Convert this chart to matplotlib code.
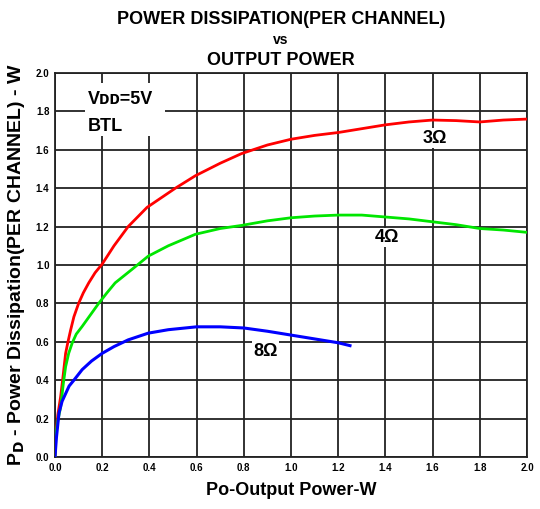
import numpy as np
import matplotlib.pyplot as plt
from matplotlib.patches import Rectangle

# curves (output power W, dissipation W)
x_3ohm = [0.0, 0.003, 0.012, 0.024, 0.035, 0.045, 0.055, 0.066, 0.08, 0.10, 0.12, 0.143, 0.17, 0.2,
          0.25, 0.31, 0.39, 0.45, 0.51, 0.595, 0.7, 0.79, 0.9, 1.0, 1.1, 1.2, 1.3, 1.4, 1.5,
          1.6, 1.7, 1.8, 1.9, 2.0]
y_3ohm = [0.0, 0.106, 0.22, 0.315, 0.43, 0.54, 0.60, 0.66, 0.73, 0.80, 0.855, 0.907, 0.96, 1.005,
          1.1, 1.2, 1.30, 1.35, 1.40, 1.465, 1.53, 1.58, 1.625, 1.655, 1.675, 1.69, 1.71, 1.73, 1.745,
          1.755, 1.752, 1.745, 1.755, 1.76]

x_4ohm = [0.0, 0.004, 0.012, 0.024, 0.035, 0.045, 0.058, 0.073, 0.09, 0.115, 0.15, 0.185, 0.22, 0.255,
          0.325, 0.395, 0.48, 0.595, 0.7, 0.79, 0.9, 1.0, 1.1, 1.2, 1.3, 1.4, 1.5, 1.6, 1.7,
          1.8, 1.9, 2.0]
y_4ohm = [0.0, 0.12, 0.19, 0.26, 0.38, 0.47, 0.54, 0.594, 0.64, 0.68, 0.74, 0.80, 0.855, 0.907,
          0.976, 1.046, 1.10, 1.16, 1.19, 1.206, 1.23, 1.246, 1.255, 1.26, 1.26, 1.25, 1.24, 1.225, 1.21,
          1.19, 1.182, 1.17]

x_8ohm = [0.0, 0.006, 0.017, 0.03, 0.045, 0.06, 0.08, 0.115, 0.155, 0.2, 0.25, 0.31, 0.395, 0.48, 0.6,
          0.7, 0.8, 0.9, 1.0, 1.1, 1.2, 1.25]
y_8ohm = [0.0, 0.1, 0.23, 0.29, 0.33, 0.37, 0.40, 0.455, 0.50, 0.54, 0.575, 0.61, 0.645, 0.663, 0.678,
          0.678, 0.672, 0.655, 0.635, 0.615, 0.595, 0.58]

ticks = np.arange(0, 2.01, 0.2)

plt.rcParams['font.family'] = ['Liberation Sans', 'DejaVu Sans']

fig = plt.figure(figsize=(5.4, 5.09), dpi=100)
ax = fig.add_axes([55 / 540, 52 / 509, 472 / 540, 384 / 509])

ax.plot(x_3ohm, y_3ohm, color='#ff0000', lw=2, zorder=3)
ax.plot(x_4ohm, y_4ohm, color='#00e600', lw=2, zorder=3)
ax.plot(x_8ohm, y_8ohm, color='#0000ff', lw=2.2, zorder=3)

ax.set_xlim(0, 2)
ax.set_ylim(0, 2)
ax.set_xticks(ticks)
ax.set_yticks(ticks)
ax.set_xticklabels([f'{t:.1f}' for t in ticks], fontsize=7, fontweight='bold')
ax.set_yticklabels([f'{t:.1f}' for t in ticks], fontsize=7, fontweight='bold')
ax.tick_params(length=0, pad=4)
ax.grid(True, color='#222222', lw=1.3)
ax.set_axisbelow(True)
for s in ax.spines.values():
    s.set_color('#222222')
    s.set_linewidth(1.3)

# white patch behind the supply note
ax.add_patch(Rectangle((0.127, 1.67), 0.34, 0.28, facecolor='white', edgecolor='none', zorder=2))

box = dict(facecolor='white', edgecolor='none', pad=1)
lab = dict(fontsize=13, fontweight='bold', ha='center', va='center', bbox=box, zorder=4)
ax.text(1.61, 1.66, '3Ω', **lab)
ax.text(1.405, 1.143, '4Ω', **lab)
ax.text(0.892, 0.55, '8Ω', **lab)
ax.text(0.14, 1.86, 'Vᴅᴅ=5V', fontsize=13, fontweight='bold', ha='left', va='center', zorder=4)
ax.text(0.14, 1.72, 'BTL', fontsize=13, fontweight='bold', ha='left', va='center', zorder=4)

ax.set_xlabel('Po-Output Power-W', fontsize=13, fontweight='bold', labelpad=7)
ax.set_ylabel(r'P$_{\mathbf{D}}$ - Power Dissipation(PER CHANNEL) - W', fontsize=14, fontweight='bold', labelpad=6)

fig.text(0.52, 0.962, 'POWER DISSIPATION(PER CHANNEL)', fontsize=13, fontweight='bold', ha='center', va='center')
fig.text(0.52, 0.922, 'vs', fontsize=10, fontweight='bold', ha='center', va='center')
fig.text(0.52, 0.882, 'OUTPUT POWER', fontsize=13, fontweight='bold', ha='center', va='center')

fig.savefig('out.png', dpi=100, facecolor='white')
